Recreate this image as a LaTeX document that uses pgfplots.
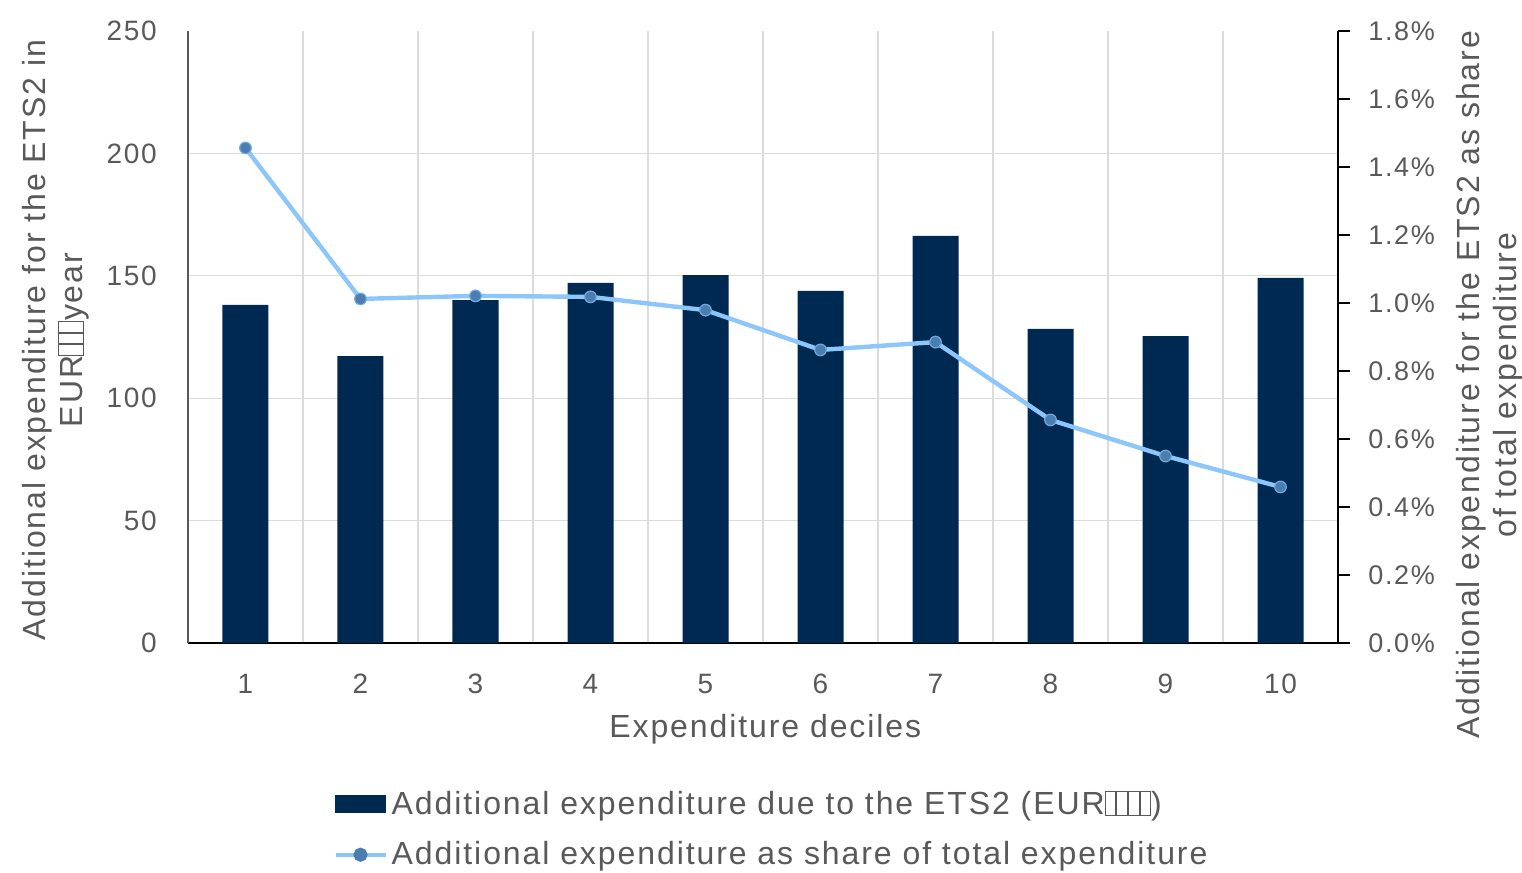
\documentclass[border=0pt]{standalone}
\usepackage{pgfplots}
\pgfplotsset{compat=1.18}
\usepackage{fontspec}
\setmainfont{Liberation Sans}[LetterSpace=6]
\definecolor{navy}{RGB}{0,41,82}
\definecolor{lblue}{RGB}{140,198,250}
\definecolor{mblue}{RGB}{74,126,176}
\definecolor{txt}{RGB}{89,89,89}
\definecolor{gridc}{RGB}{220,220,220}
\newcommand{\tofu}{{\fboxsep0pt\fboxrule0.5pt\fbox{\rule{0pt}{0.72em}\rule{0.3em}{0pt}}}}
\begin{document}
\begin{tikzpicture}
\useasboundingbox (-94pt,-115pt) rectangle (667pt,321.5pt);
\begin{axis}[
  at={(0,0)}, anchor=south west, scale only axis, width=575pt, height=306pt,
  xmin=0.5, xmax=10.5, ymin=0, ymax=250,
  axis x line*=bottom, axis y line*=left,
  xtick={1,...,10}, ytick={0,50,...,250},
  minor xtick={1.5,2.5,...,9.5}, minor ytick={50,100,150,200},
  xminorgrids, yminorgrids, minor grid style={gridc, line width=0.6pt},
  major tick length=0pt, minor tick length=0pt,
  /pgf/number format/assume math mode=true,
  tick label style={font=\fontsize{14}{16}\selectfont, text=txt, inner sep=0pt},
  xticklabel style={anchor=base, yshift=-25.5pt},
  yticklabel style={anchor=east, xshift=-15.5pt},
  x axis line style={black, line width=1pt, -},
  y axis line style={txt, line width=1.3pt, -},
  xlabel={Expenditure deciles},
  xlabel style={font=\fontsize{16}{18}\selectfont, text=txt, at={(axis description cs:0.502,0)}, anchor=base, yshift=-47pt},
  ylabel={Additional expenditure for the ETS2 in\\EUR\tofu\tofu\tofu year},
  ylabel style={font=\fontsize{16}{18.5}\selectfont, text=txt, align=center, at={(axis description cs:-0.115,0.495)}, anchor=center},
]
\addplot[ybar, bar width=23pt, fill=navy, draw=none] coordinates {
(1,138.1) (2,117.2) (3,140.1) (4,147.1) (5,150.3) (6,143.8) (7,166.3) (8,128.3) (9,125.4) (10,149.1)};
\end{axis}
\begin{axis}[
  at={(0,0)}, anchor=south west, scale only axis, width=575pt, height=306pt,
  xmin=0.5, xmax=10.5, ymin=0, ymax=1.8,
  axis x line=none, axis y line*=right,
  ytick={0,0.2,0.4,0.6,0.8,1.0,1.2,1.4,1.6,1.8},
  yticklabels={0.0\%,0.2\%,0.4\%,0.6\%,0.8\%,1.0\%,1.2\%,1.4\%,1.6\%,1.8\%},
  major tick length=6pt, tick align=outside, tick style={black, line width=1pt},
  y axis line style={black, line width=1pt, -},
  tick label style={font=\fontsize{13.5}{16}\selectfont, text=txt, inner sep=0pt},
  yticklabel style={anchor=west, xshift=9pt},
  ylabel={Additional expenditure for the ETS2 as share\\of total expenditure},
  ylabel style={font=\fontsize{16}{18.5}\selectfont, text=txt, align=center, at={(axis description cs:1.132,0.4216)}, anchor=center},
  legend style={at={(axis description cs:0.126,-0.234)}, anchor=north west, draw=none, fill=none,
    font=\fontsize{16}{18}\selectfont, text=txt, row sep=8pt, inner sep=0pt, legend cell align=left},
]
\addlegendimage{legend image code/.code={\fill[navy] (0pt,-4.25pt) rectangle (25pt,4.25pt);}}
\addlegendentry{Additional expenditure due to the ETS2 (EUR\tofu\tofu\tofu\tofu)}
\addplot[lblue, line width=2.2pt, mark=*, mark size=2.9pt, mark options={fill=mblue, draw=lblue!60!mblue, line width=0.6pt},
  legend image code/.code={\draw[lblue, line width=2.2pt] (0pt,0pt) -- (25pt,0pt); \fill[mblue] (12.5pt,0pt) circle (2.4pt);}]
coordinates {(1,1.456) (2,1.012) (3,1.021) (4,1.018) (5,0.979) (6,0.862) (7,0.885) (8,0.656) (9,0.550) (10,0.459)};
\addlegendentry{Additional expenditure as share of total expenditure}
\end{axis}
\end{tikzpicture}
\end{document}
